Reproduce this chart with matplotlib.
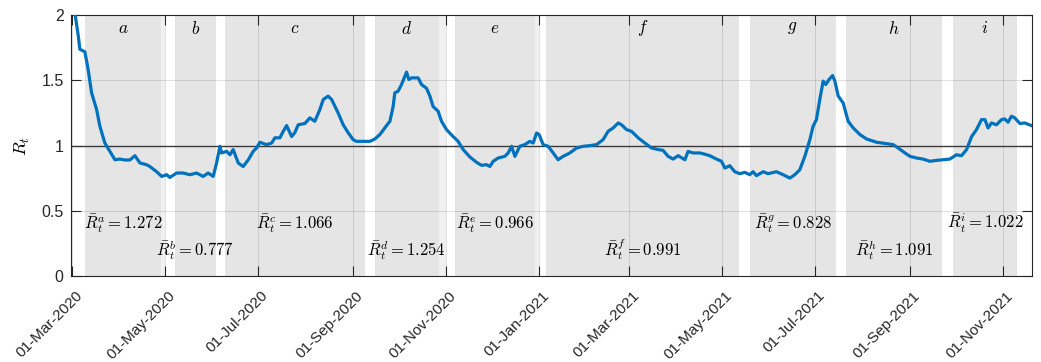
import numpy as np
import matplotlib
matplotlib.use("Agg")
import matplotlib.pyplot as plt
import matplotlib.dates as mdates
from matplotlib.transforms import ScaledTranslation

plt.rcParams['mathtext.fontset'] = 'cm'
plt.rcParams['font.family'] = ['Liberation Sans', 'DejaVu Sans']

# ---- data (days since 01-Mar-2020) ----
start_date = '2020-03-01'
days = [0, 2, 4, 5, 8.3, 10.5, 12.7, 16, 18.1, 21.4, 24.7, 28, 31.3, 34.5, 37.8, 41.1,
        44.4, 48.7, 50.9, 55.3, 58.6, 61.9, 64, 68.4, 72.7, 77.1, 81.5, 85.8, 89.1, 92.4,
        94.6, 96.8, 97.9, 101.2, 103.4, 105.5, 108.8, 112, 115.3, 118.6, 120.8, 123, 127.4,
        130.7, 132.8, 136.1, 138.3, 140.5, 143.8, 145.9, 148.1, 152.5, 155.7, 159, 162.3,
        164.5, 167.7, 170, 174.3, 177.6, 180.8, 184.1, 186.3, 188.5, 195.1, 198.3, 201.6,
        206, 208.2, 210.3, 211.4, 213.6, 215.8, 218, 219.1, 220.6, 222.4, 224.5, 226.7,
        228.9, 232.2, 234.4, 236.5, 239.8, 242, 245.3, 249.6, 252.9, 256.2, 260.6, 265,
        268.2, 271.5, 273.7, 275.9, 279.1, 283.5, 285.7, 287.9, 290.1, 293.3, 296.6, 299.9,
        302.1, 304.3, 306, 308.6, 311.9, 315.2, 318.4, 321.7, 326.1, 330.5, 334.8, 339.2,
        343.6, 347.9, 351.2, 354.5, 357.8, 360, 363.3, 366.5, 370.9, 375.3, 379.6, 384,
        387.2, 390.5, 393.8, 397.1, 401.5, 403.6, 406.9, 411.3, 413.4, 417.8, 422.2, 425.5,
        427.7, 430.9, 434.2, 437.5, 440.8, 444, 446.2, 448.4, 452.8, 456, 461.5, 465.9,
        470.3, 473.5, 476.8, 480.1, 483.4, 485.5, 487.7, 489.9, 492.1, 493.8, 496, 498.3,
        499.8, 502, 505.2, 508.5, 511.8, 516.2, 520.6, 527.1, 533.7, 538, 541.3, 545.7,
        549, 553.4, 557.6, 562, 566.4, 570.7, 575.1, 579.5, 582.8, 586.1, 589.4, 592.6,
        595.9, 598.1, 600.2, 602.4, 605.7, 609, 611.1, 613.3, 615.5, 617.7, 621, 624.2, 628.6]
rt = [2.30, 2.0, 1.84, 1.74, 1.72, 1.58, 1.405, 1.277, 1.15, 1.02, 0.956, 0.892, 0.897,
      0.89, 0.89, 0.923, 0.867, 0.854, 0.84, 0.80, 0.764, 0.777, 0.756, 0.79, 0.79, 0.777,
      0.79, 0.764, 0.79, 0.764, 0.867, 0.995, 0.944, 0.956, 0.93, 0.97, 0.867, 0.84, 0.89,
      0.956, 0.982, 1.026, 1.008, 1.02, 1.06, 1.06, 1.11, 1.154, 1.07, 1.10, 1.16, 1.17,
      1.213, 1.187, 1.277, 1.354, 1.38, 1.354, 1.25, 1.16, 1.10, 1.046, 1.033, 1.033,
      1.033, 1.051, 1.085, 1.154, 1.187, 1.30, 1.405, 1.418, 1.469, 1.533, 1.564, 1.508,
      1.52, 1.52, 1.52, 1.469, 1.44, 1.38, 1.30, 1.264, 1.187, 1.123, 1.07, 1.033, 0.97,
      0.913, 0.872, 0.849, 0.854, 0.84, 0.88, 0.905, 0.918, 0.944, 0.995, 0.918, 0.995,
      1.008, 1.033, 1.02, 1.097, 1.085, 1.008, 0.995, 0.944, 0.892, 0.918, 0.944, 0.982,
      0.995, 1.0, 1.008, 1.046, 1.11, 1.136, 1.174, 1.16, 1.123, 1.11, 1.06, 1.02, 0.982,
      0.97, 0.964, 0.918, 0.897, 0.923, 0.892, 0.956, 0.944, 0.944, 0.938, 0.923,
      0.897, 0.88, 0.828, 0.846, 0.80, 0.785, 0.795, 0.777, 0.80, 0.77, 0.80, 0.785, 0.80,
      0.777, 0.751, 0.777, 0.815, 0.918, 1.046, 1.149, 1.20, 1.354, 1.495, 1.469, 1.508,
      1.538, 1.495, 1.38, 1.328, 1.187, 1.136, 1.085, 1.051, 1.026, 1.015, 1.008, 0.982,
      0.944, 0.918, 0.905, 0.897, 0.88, 0.887, 0.892, 0.897, 0.93, 0.923, 0.97, 1.07,
      1.123, 1.20, 1.20, 1.136, 1.174, 1.16, 1.20, 1.205, 1.18, 1.226, 1.213, 1.17, 1.174,
      1.154]

# periods (start, end) in days since start_date
period_names = ['a', 'b', 'c', 'd', 'e', 'f', 'g', 'h', 'i']
period_start = [8.3, 67.3, 100.1, 198.3, 250.7, 310.4, 444, 507, 577.1]
period_end = [58.1, 94.2, 191.8, 240.2, 303.1, 437, 500.2, 570.3, 619]
period_mean = ['1.272', '0.777', '1.066', '1.254', '0.966', '0.991', '0.828', '1.091', '1.022']
# lighter strips after some periods
light_start = [58.1, 240.2, 303.1]
light_end = [61, 245, 306]

base = mdates.date2num(np.datetime64(start_date))
x = base + np.array(days)

fig = plt.figure(figsize=(10.41, 3.62), dpi=100)
ax = fig.add_axes([0.0679, 0.2376, 0.9235, 0.7201])

for s, e in zip(period_start, period_end):
    ax.axvspan(base + s, base + e, color='#e5e5e5', lw=0, zorder=0.5)
for s, e in zip(light_start, light_end):
    ax.axvspan(base + s, base + e, color='#f0f0f0', lw=0, zorder=0.5)

ax.axhline(1, color='#3a3a3a', lw=1.0, zorder=1.8)
ax.plot(x, rt, color='#0072BD', lw=2.3, zorder=3, solid_joinstyle='round')

for k, (s, e) in enumerate(zip(period_start, period_end)):
    c = base + (s + e) / 2
    ax.text(c, 1.9, '$' + period_names[k] + '$', ha='center', va='center', fontsize=12.5, zorder=4)
    yy = 0.4 if k % 2 == 0 else 0.2
    ax.text(c, yy, r'$\bar{R}_t^{' + period_names[k] + '} = ' + period_mean[k] + '$',
            ha='center', va='center', fontsize=12, zorder=4)

ax.set_ylim(0, 2)
ax.set_xlim(base - 1, base + 629)
ax.set_yticks([0, 0.5, 1, 1.5, 2])
ax.set_yticklabels(['0', '0.5', '1', '1.5', '2'])
ax.xaxis.set_major_locator(mdates.MonthLocator(bymonth=[1, 3, 5, 7, 9, 11]))
ax.xaxis.set_major_formatter(mdates.DateFormatter('%d-%b-%Y'))

ax.grid(True, color='k', alpha=0.12, lw=0.7)
ax.tick_params(direction='in', length=7, width=0.8, top=True, right=True,
               colors='#262626', labelsize=11.5)
ax.tick_params(axis='x', pad=0, labelsize=11)
ax.tick_params(axis='y', pad=5)
for sp in ax.spines.values():
    sp.set_color('#262626')
    sp.set_linewidth(0.8)

for lab in ax.get_xticklabels():
    lab.set_rotation(45)
    lab.set_ha('right')
    lab.set_va('baseline')
    lab.set_rotation_mode('anchor')
    lab.set_transform(lab.get_transform() + ScaledTranslation(10.5 / 100, -20.5 / 100, fig.dpi_scale_trans))

ax.set_ylabel('$R_t$', fontsize=13, rotation=90)
ax.yaxis.set_label_coords(-0.040, 0.5)

fig.savefig('out.png', dpi=100)
